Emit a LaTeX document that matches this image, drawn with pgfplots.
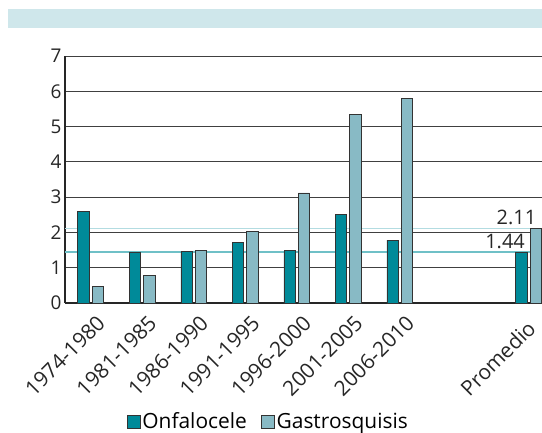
\documentclass[border=0pt]{standalone}
\usepackage{pgfplots}
\pgfplotsset{compat=1.18}
\usepackage{fontspec}
\setmainfont{Open Sans}
\definecolor{onfa}{HTML}{008A99}
\definecolor{gastro}{HTML}{88BAC5}
\definecolor{band}{HTML}{CFE7EB}
\definecolor{lineA}{HTML}{B3DCE1}
\definecolor{lineB}{HTML}{6FC0C7}
\begin{document}
\begin{tikzpicture}
\useasboundingbox (0,0) rectangle (542bp,433bp);
\fill[band] (8bp,405bp) rectangle (542bp,424bp);
\begin{axis}[
  at={(65bp,130bp)}, anchor=south west, scale only axis,
  width=477bp, height=247bp,
  xmin=-0.5, xmax=8.76, ymin=0, ymax=7,
  ytick={0,...,7},
  xtick={0,1,2,3,4,5,6},
  xticklabels={1974-1980,1981-1985,1986-1990,1991-1995,1996-2000,2001-2005,2006-2010},
  extra x ticks={8.5},
  extra x tick labels={Promedio},
  extra x tick style={xticklabel style={xshift=-9bp, yshift=2bp}, grid=none},
  /pgf/number format/assume math mode=true,
  tick label style={font=\fontsize{19}{22}\selectfont, text=black!85},
  x tick label style={rotate=45, anchor=north east, inner sep=0pt, xshift=-4bp, yshift=-11bp, font=\fontsize{21}{24}\selectfont},
  axis x line*=bottom, axis y line*=left,
  axis line style={-, black!85, line width=1.2pt},
  major tick length=0pt,
  ymajorgrids, major grid style={black!75, line width=0.9pt},
  clip=false,
  legend style={at={(0.426,-0.48)}, anchor=center, draw=none, legend columns=2, fill=none,
    font=\fontsize{21}{24}\selectfont, inner sep=0pt,
    /tikz/every even column/.append style={column sep=12bp}},
  legend cell align=left,
  legend image code/.code={\draw[#1, draw=black!80, line width=0.8pt] (0bp,-6.5bp) rectangle (13bp,6.5bp);},
]
\addplot[lineA, line width=1.5pt, forget plot] coordinates {(-0.5,2.11) (8.76,2.11)};
\addplot[lineB, line width=1.5pt, forget plot] coordinates {(-0.5,1.44) (8.76,1.44)};
\addplot[ybar, bar width=0.22, bar shift=-0.14, fill=onfa, draw=black!80, line width=0.8pt]
  coordinates {(0,2.6) (1,1.42) (2,1.45) (3,1.72) (4,1.48) (5,2.52) (6,1.78) (8.5,1.44)};
\addplot[ybar, bar width=0.22, bar shift=0.14, fill=gastro, draw=black!80, line width=0.8pt]
  coordinates {(0,0.48) (1,0.78) (2,1.5) (3,2.02) (4,3.12) (5,5.35) (6,5.8) (8.5,2.11)};
\legend{Onfalocele,Gastrosquisis}
\node[anchor=south east, inner sep=1bp, font=\fontsize{20}{22}\selectfont, text=black!85] at (axis cs:8.67,2.18) {2.11};
\node[anchor=south east, inner sep=1bp, font=\fontsize{20}{22}\selectfont, text=black!85] at (axis cs:8.45,1.50) {1.44};
\end{axis}
\end{tikzpicture}
\end{document}
